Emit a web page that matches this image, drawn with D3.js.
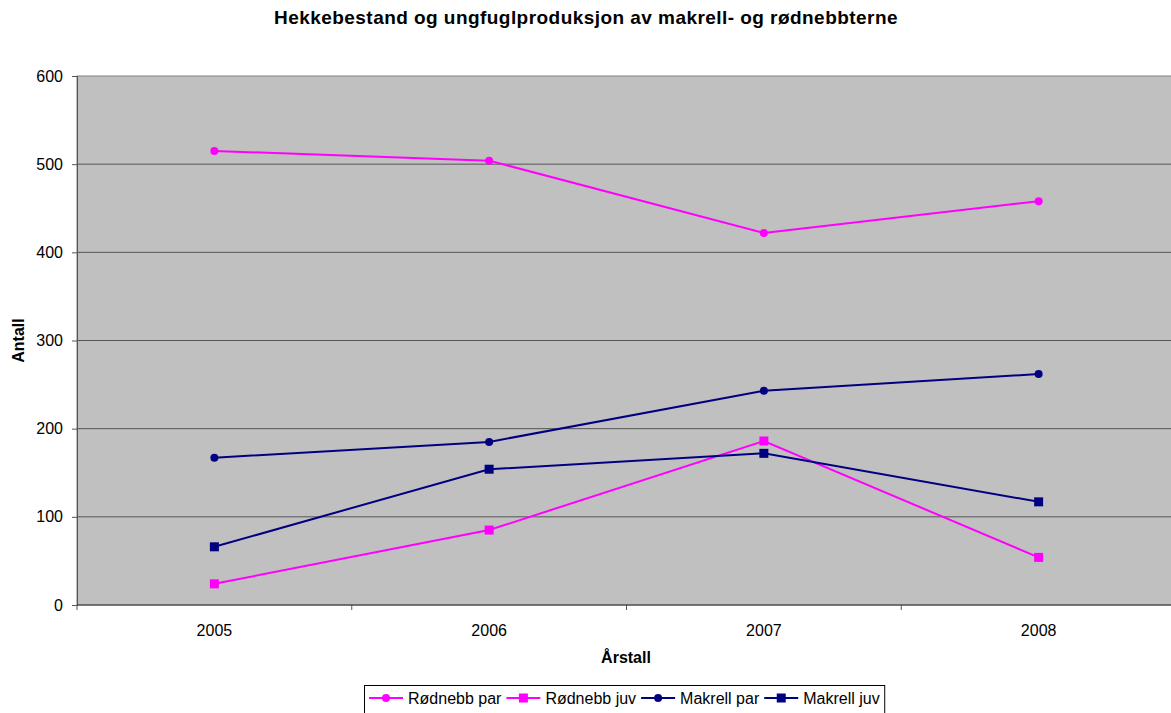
<!DOCTYPE html>
<html>
<head>
<meta charset="utf-8">
<script src="https://cdn.jsdelivr.net/npm/d3@7"></script>
<style>
  body { margin: 0; background: #fff; }
  svg { display: block; font-family: "Liberation Sans", Arial, sans-serif; }
</style>
</head>
<body>
<div id="chart"></div>
<script>
// Hekkebestand og ungfuglproduksjon - line chart

const years = ['2005', '2006', '2007', '2008'];
const rodnebbPar = [515, 504, 422, 458];
const rodnebbJuv = [24, 85, 186, 54];
const makrellPar = [167, 185, 243, 262];
const makrellJuv = [66, 154, 172, 117];
const yTicks = [0, 100, 200, 300, 400, 500, 600];

const series = [
    { name: 'Rødnebb par', values: rodnebbPar, color: '#ff00ff', marker: 'circle' },
    { name: 'Rødnebb juv', values: rodnebbJuv, color: '#ff00ff', marker: 'square' },
    { name: 'Makrell par', values: makrellPar, color: '#000080', marker: 'circle' },
    { name: 'Makrell juv', values: makrellJuv, color: '#000080', marker: 'square' }
];

const width = 1171;
const height = 713;
const margin = { top: 76, right: -5, bottom: 108, left: 77 };
const FONT = '"Liberation Sans", Arial, sans-serif';

const svg = d3.select('#chart')
    .append('svg')
    .attr('width', width)
    .attr('height', height);

const x = d3.scaleBand()
    .domain(years)
    .range([margin.left, width - margin.right]);

const y = d3.scaleLinear()
    .domain([0, 600])
    .range([height - margin.bottom, margin.top]);

// plot background
svg.append('rect')
    .attr('x', margin.left)
    .attr('y', margin.top)
    .attr('width', width - margin.right - margin.left)
    .attr('height', y(0) - y(600))
    .attr('fill', '#c0c0c0')
    .attr('stroke', '#808080');

// gridlines
svg.append('g')
    .selectAll('line')
    .data(yTicks.filter(d => d > 0 && d < 600))
    .enter()
    .append('line')
    .attr('x1', margin.left)
    .attr('x2', width)
    .attr('y1', d => y(d))
    .attr('y2', d => y(d))
    .attr('stroke', '#555')
    .attr('stroke-width', 1);

// y axis
const yAxis = svg.append('g')
    .attr('transform', `translate(${margin.left},0)`)
    .call(d3.axisLeft(y).tickValues(yTicks).tickSize(5).tickPadding(9));
yAxis.select('.domain').attr('stroke', '#555');
yAxis.selectAll('.tick line').attr('stroke', '#555');
yAxis.selectAll('text').attr('font-size', 16).attr('fill', '#000')
    .attr('font-family', FONT);

// x axis
const xAxis = svg.append('g')
    .attr('transform', `translate(0,${y(0)})`)
    .call(d3.axisBottom(x).tickSize(0).tickPadding(20));
xAxis.select('.domain').remove();
xAxis.selectAll('text').attr('font-size', 16).attr('fill', '#000')
    .attr('font-family', FONT);

// category separator ticks
svg.append('g')
    .selectAll('line')
    .data(years)
    .enter()
    .append('line')
    .attr('x1', d => x(d))
    .attr('x2', d => x(d))
    .attr('y1', y(0))
    .attr('y2', y(0) + 5)
    .attr('stroke', '#555');
svg.append('line')
    .attr('x1', margin.left)
    .attr('x2', width)
    .attr('y1', y(0))
    .attr('y2', y(0))
    .attr('stroke', '#333');

const cx = d => x(d) + x.bandwidth() / 2;

const line = d3.line()
    .x((d, i) => cx(years[i]))
    .y(d => y(d));

function drawMarker(g, type, color, px, py) {
    if (type === 'circle') {
        g.append('circle').attr('cx', px).attr('cy', py).attr('r', 4).attr('fill', color);
    } else {
        g.append('rect').attr('x', px - 4.5).attr('y', py - 4.5)
            .attr('width', 9).attr('height', 9).attr('fill', color);
    }
}

series.forEach(s => {
    const g = svg.append('g');
    g.append('path')
        .attr('d', line(s.values))
        .attr('fill', 'none')
        .attr('stroke', s.color)
        .attr('stroke-width', 2);
    s.values.forEach((v, i) => drawMarker(g, s.marker, s.color, cx(years[i]), y(v)));
});

// title and axis labels
svg.append('text')
    .attr('x', 586)
    .attr('y', 24)
    .attr('text-anchor', 'middle')
    .attr('font-size', 19)
    .attr('font-weight', 'bold')
    .attr('letter-spacing', 0.45)
    .text('Hekkebestand og ungfuglproduksjon av makrell- og rødnebbterne');

svg.append('text')
    .attr('transform', `translate(24,${(y(0) + y(600)) / 2}) rotate(-90)`)
    .attr('text-anchor', 'middle')
    .attr('font-size', 16)
    .attr('font-weight', 'bold')
    .text('Antall');

svg.append('text')
    .attr('x', 626)
    .attr('y', 663)
    .attr('text-anchor', 'middle')
    .attr('font-size', 16)
    .attr('font-weight', 'bold')
    .text('Årstall');

// legend
const legend = svg.append('g');
const legendBox = legend.append('rect')
    .attr('x', 364.5)
    .attr('y', 685.5)
    .attr('height', 40)
    .attr('fill', '#fff')
    .attr('stroke', '#000');

let lx = 369;
series.forEach(s => {
    const g = legend.append('g').attr('transform', `translate(${lx},698)`);
    g.append('line')
        .attr('x1', 0).attr('x2', 34)
        .attr('y1', 0).attr('y2', 0)
        .attr('stroke', s.color).attr('stroke-width', 2);
    drawMarker(g, s.marker, s.color, 17, 0);
    const t = g.append('text')
        .attr('x', 39)
        .attr('y', 6)
        .attr('font-size', 16)
        .text(s.name);
    lx += 39 + t.node().getComputedTextLength() + 5;
});
legendBox.attr('width', lx - 364.5);
</script>
</body>
</html>
